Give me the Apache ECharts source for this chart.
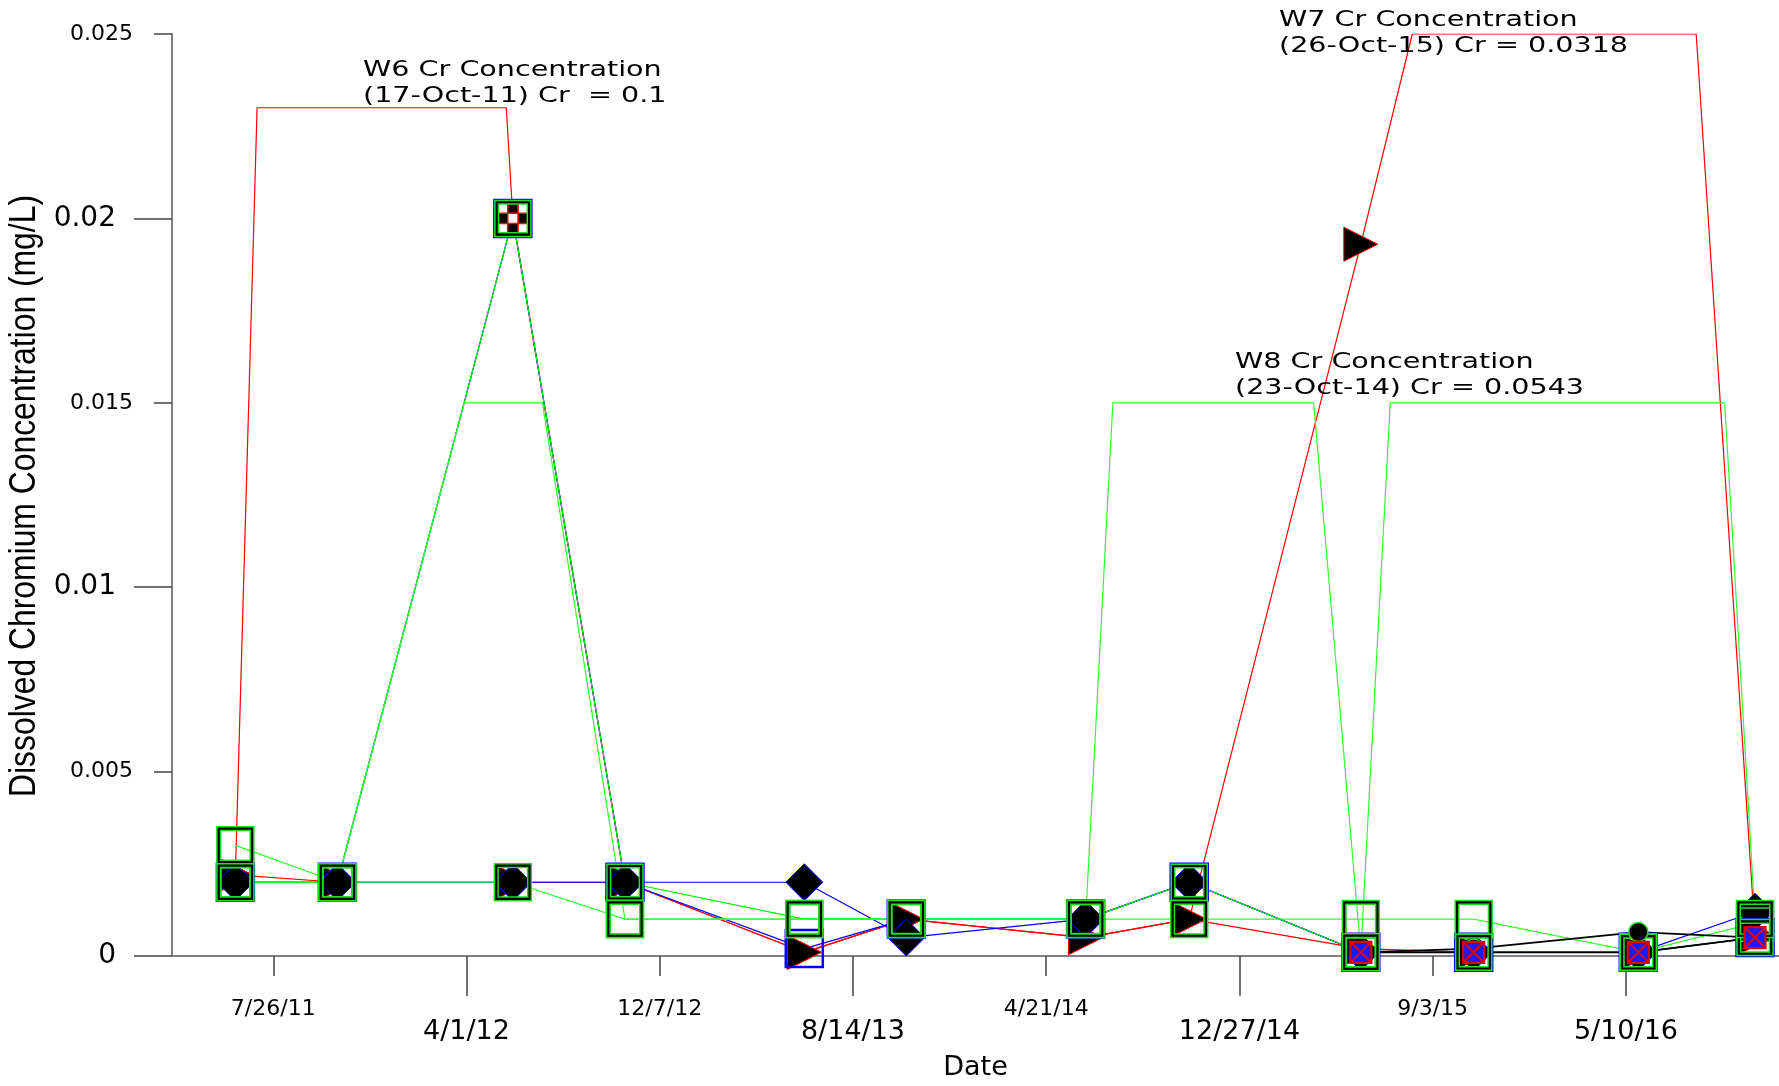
<!DOCTYPE html>
<html>
<head>
<meta charset="utf-8">
<script src="https://cdn.jsdelivr.net/npm/echarts@6/dist/echarts.min.js"></script>
<style>
  html, body { margin: 0; padding: 0; background: #fff; }
  #main { width: 1779px; height: 1086px; }
</style>
</head>
<body>
<div id="main"></div>
<script>
// sampling events (x) and readings per track (mg/L)
const sampleDates = ['2011-06-07', '2011-10-17', '2012-05-31', '2012-10-23', '2013-06-12', '2013-10-22',
                     '2014-06-11', '2014-10-23', '2015-06-02', '2015-10-26', '2016-05-26', '2016-10-24'];
const w6Red    = [0.0022, 0.1, 0.02, 0.002, 0.0001, 0.001, 0.0005, 0.001, 0.0002, 0.0001, 0.0001, 0.0005];
const w7Red    = [0.0022, 0.002, 0.002, 0.002, 0.0001, 0.001, 0.0005, 0.001, 0.0193, 0.0318, 0.049, 0.0006];
const blueDiam = [0.002, 0.002, 0.002, 0.002, 0.002, 0.0005, 0.001, 0.002, 0.0001, 0.0001, 0.0001, 0.0012];
const blueSq   = [0.002, 0.002, 0.02, 0.002, 0.0002, 0.001, 0.001, 0.002, 0.0001, 0.0001, 0.0001, 0.0005];
const checker  = [null, null, 0.02, null, null, null, null, null, null, null, null, null];
const green1   = [0.003, 0.002, 0.002, 0.001, 0.001, 0.001, 0.001, 0.001, 0.001, 0.001, 0.0001, 0.0009];
const green2   = [0.002, 0.002, 0.02, 0.002, 0.001, 0.001, 0.001, 0.002, 0.0001, 0.0001, 0.0001, 0.0005];
const w8Green  = [0.002, 0.002, 0.02, 0.001, 0.001, 0.001, 0.001, 0.0543, 0.0001, 0.0572, 0.0548, 0.001];
const blackDot = [null, null, null, null, null, null, null, null, 0.0001, 0.0002, 0.00065, 0.0005];
const xBox     = [null, null, null, null, null, null, null, null, 0.0001, 0.0001, 0.0001, 0.0005];

// plot limits of each overlaid well graph
const clipW6 = 0.023;
const clipW7 = 0.025;
const clipW8 = 0.015;

// axis ticks
const xTicksSmall = ['2011-07-26', '2012-12-07', '2014-04-21', '2015-09-03'];
const xTicksLarge = ['2012-04-01', '2013-08-14', '2014-12-27', '2016-05-10'];
const yTicksSmall = [0.005, 0.015, 0.025];
const yTicksLarge = [0, 0.01, 0.02];
const xMinDate = '2011-03-17';
const xMaxDate = '2016-11-24';
const yMax = 0.025;

function day(s) {
  const p = s.split('-').map(Number);
  return Date.UTC(p[0], p[1] - 1, p[2]);
}
function fmtDate(v) {
  const d = new Date(v);
  return (d.getUTCMonth() + 1) + '/' + d.getUTCDate() + '/' + String(d.getUTCFullYear()).slice(2);
}

// clip a track at its graph limit the way the source plot does:
// the line runs along the limit while the readings are off scale
function toData(values, level) {
  const pts = [];
  let prev = null;
  values.forEach((v, i) => {
    if (v == null) { prev = null; return; }
    const t = day(sampleDates[i]);
    if (prev && (prev.v - level) * (v - level) < 0) {
      const tc = prev.t + (t - prev.t) * (level - prev.v) / (v - prev.v);
      pts.push({ value: [tc, level], symbol: 'none' });
    }
    pts.push(v > level ? { value: [t, level], symbol: 'none' } : { value: [t, v] });
    prev = { t: t, v: v };
  });
  return pts;
}

const ring = 'path://M0,0H40V40H0Z M4,4V36H36V4Z';
const boxX = 'path://M0,0H20V20H0Z M0,0L20,20 M20,0L0,20';
const checkSvg = "<svg xmlns='http://www.w3.org/2000/svg' width='30' height='30'>" +
  "<rect width='30' height='30' fill='white'/>" +
  "<rect x='10' y='0' width='10' height='10' fill='black'/><rect x='0' y='10' width='10' height='10' fill='black'/>" +
  "<rect x='20' y='10' width='10' height='10' fill='black'/><rect x='10' y='20' width='10' height='10' fill='black'/>" +
  "<path d='M10 0V30M20 0V30M0 10H30M0 20H30' stroke='red' stroke-width='1.5'/></svg>";
const checkSym = 'image://data:image/svg+xml;charset=utf-8,' + encodeURIComponent(checkSvg);

function track(name, values, level, lineColor, symbol, size, itemStyle, extra) {
  return Object.assign({
    name: name,
    type: 'line',
    data: toData(values, level),
    symbol: symbol,
    symbolSize: size,
    showSymbol: true,
    showAllSymbol: true,
    lineStyle: { color: lineColor, width: 1.2 },
    itemStyle: itemStyle,
    emphasis: { disabled: true },
    animation: false
  }, extra || {});
}

const series = [
  track('W6', w6Red, clipW6, '#ff0000', 'triangle', 34, { color: '#000', borderColor: '#ff0000', borderWidth: 1 }, { symbolRotate: -90 }),
  track('W7', w7Red, clipW7, '#ff0000', 'triangle', 34, { color: '#000', borderColor: '#ff0000', borderWidth: 1 }, { symbolRotate: -90 }),
  track('blue diamond', blueDiam, yMax, '#0000ff', 'diamond', 37, { color: '#000', borderColor: '#0000ff', borderWidth: 1 }),
  track('blue square', blueSq, yMax, '#0000ff', 'rect', 37, { color: 'rgba(0,0,0,0)', borderColor: '#0000ff', borderWidth: 2.5 }),
  track('checker', checker, yMax, '#ff0000', checkSym, 31, {}),
  track('green 1', green1, yMax, '#33ff33', ring, 37, { color: '#000', borderColor: '#22dd22', borderWidth: 1.5 }),
  track('green 2', green2, yMax, '#00ee00', ring, 36, { color: '#000', borderColor: '#22dd22', borderWidth: 1.5 }),
  track('W8', w8Green, clipW8, '#33ff33', ring, 37, { color: '#000', borderColor: '#22dd22', borderWidth: 1.5 }),
  track('black', blackDot, yMax, '#000000', 'circle', 19, { color: '#000', borderColor: '#22dd22', borderWidth: 1.5 }, { lineStyle: { color: '#000', width: 1.8 } }),
  track('box', xBox, yMax, '#000000', boxX, 21, { color: '#1a1aff', borderColor: '#dd0000', borderWidth: 2.2 }, { lineStyle: { color: '#000', width: 1.8 } })
];

const tickFont = 'DejaVu Sans';
const xMin = day(xMinDate), xMax = day(xMaxDate);

const option = {
  backgroundColor: '#fff',
  animation: false,
  grid: { left: 172, top: 34, right: 0, height: 923 },
  xAxis: [
    {
      type: 'value', min: xMin, max: xMax,
      name: 'Date', nameLocation: 'middle', nameGap: 98,
      nameTextStyle: { fontSize: 27, fontFamily: tickFont, color: '#000' },
      axisLine: { show: true, onZero: false, lineStyle: { color: '#808080', width: 2 } },
      axisTick: { show: true, length: 20, customValues: xTicksSmall.map(day), lineStyle: { color: '#444', width: 1.5 } },
      axisLabel: { customValues: xTicksSmall.map(day), formatter: fmtDate, margin: 42, fontSize: 22, fontFamily: tickFont, color: '#000' },
      splitLine: { show: false }
    },
    {
      type: 'value', min: xMin, max: xMax, position: 'bottom', offset: 0,
      axisLine: { show: false },
      axisTick: { show: true, length: 40, customValues: xTicksLarge.map(day), lineStyle: { color: '#444', width: 1.5 } },
      axisLabel: { customValues: xTicksLarge.map(day), formatter: fmtDate, margin: 62, fontSize: 27, fontFamily: tickFont, color: '#000' },
      splitLine: { show: false }
    }
  ],
  yAxis: [
    {
      type: 'value', min: 0, max: yMax,
      axisLine: { show: true, lineStyle: { color: '#808080', width: 2 } },
      axisTick: { show: true, length: 18, customValues: yTicksSmall, lineStyle: { color: '#444', width: 1.5 } },
      axisLabel: { customValues: yTicksSmall, formatter: v => String(+(+v).toFixed(3)), margin: 39, fontSize: 22, fontFamily: tickFont, color: '#000' },
      splitLine: { show: false }
    },
    {
      type: 'value', min: 0, max: yMax, position: 'left', offset: 0,
      axisLine: { show: false },
      axisTick: { show: true, length: 38, customValues: yTicksLarge, lineStyle: { color: '#444', width: 1.5 } },
      axisLabel: { customValues: yTicksLarge, formatter: v => String(+(+v).toFixed(3)), margin: 56, fontSize: 28, fontFamily: tickFont, color: '#000' },
      splitLine: { show: false }
    }
  ],
  graphic: [
    // y title: narrow face, squeezed along its length
    { type: 'text', x: 25, y: 496, rotation: Math.PI / 2, scaleX: 0.885, z: 100,
      style: { text: 'Dissolved Chromium Concentration (mg/L)', fontSize: 36, fontFamily: 'Liberation Sans',
               fill: '#000', align: 'center', verticalAlign: 'middle', textAlign: 'center', textVerticalAlign: 'middle' } },
    { type: 'text', x: 363, y: 57, scaleX: 1.3, z: 100,
      style: { text: 'W6 Cr Concentration\n(17-Oct-11) Cr  = 0.1', fontSize: 22, fontFamily: tickFont, fill: '#000', lineHeight: 26 } },
    { type: 'text', x: 1279, y: 7, scaleX: 1.3, z: 100,
      style: { text: 'W7 Cr Concentration\n(26-Oct-15) Cr = 0.0318', fontSize: 22, fontFamily: tickFont, fill: '#000', lineHeight: 26 } },
    { type: 'text', x: 1235, y: 349, scaleX: 1.3, z: 100,
      style: { text: 'W8 Cr Concentration\n(23-Oct-14) Cr = 0.0543', fontSize: 22, fontFamily: tickFont, fill: '#000', lineHeight: 26 } }
  ],
  series: series
};

const chart = echarts.init(document.getElementById('main'), null, { renderer: 'canvas' });
chart.setOption(option);
</script>
</body>
</html>
